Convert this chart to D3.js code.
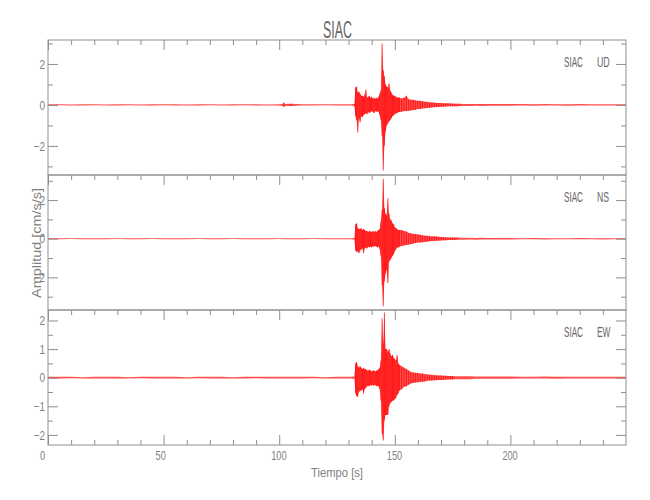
<!DOCTYPE html>
<html><head><meta charset="utf-8">
<script src="https://cdn.jsdelivr.net/npm/d3@7"></script>
<style>body{margin:0;background:#fff}</style>
</head><body>
<svg id="chart" width="650" height="500"></svg>
<script>
// ---------------- data ----------------
const station = "SIAC";
const components = ["UD", "NS", "EW"];
const xTicksMajor = [0, 50, 100, 150, 200];
const xTicksMinor = [10,20,30,40,60,70,80,90,110,120,130,140,160,170,180,190,210,220,230,240];

// sample times (s) of the min/max envelope bins
const times = [0,5,10,15,20,25,30,35,40,45,50,55,60,65,70,75,80,85,90,95,100,101.5,102,102.5,105,110,115,120,125,130,131,132,
132.5,133,133.5,134,134.5,135,135.5,136,136.5,137,137.5,138,138.5,139,139.5,140,140.5,141,141.5,142,142.5,143,143.5,144,144.5,145,145.5,146,146.5,147,147.5,148,148.5,149,149.5,150,150.5,151,151.5,152,
153,154,155,156,157,158,159,160,161,162,163,164,165,166,167,168,169,170,171,172,173,174,175,176,177,178,179,180,
182.5,185,187.5,190,192.5,195,197.5,200,
205,210,215,220,225,230,235,240,245,250];

// UD envelope (cm/s/s)
const udHi = [0.03,0.03,0.02,0.03,0.03,0.02,0.03,0.03,0.02,0.03,0.03,0.03,0.02,0.03,0.03,0.02,0.03,0.03,0.03,0.02,0.03,0.05,0.12,0.05,0.06,0.03,0.03,0.03,0.03,0.03,0.03,0.04,
0.05,0.85,0.9,0.6,0.65,0.55,0.45,0.45,0.4,0.5,0.75,0.35,0.4,0.45,0.35,0.4,0.3,0.35,0.3,0.35,0.3,0.4,0.55,0.7,3.0,1.7,1.4,1.0,0.9,0.85,1.05,0.7,0.6,0.5,0.45,0.45,0.4,0.35,0.38,0.35,
0.32,0.35,0.45,0.28,0.25,0.25,0.22,0.2,0.2,0.18,0.15,0.15,0.13,0.12,0.12,0.1,0.1,0.09,0.08,0.08,0.08,0.07,0.07,0.06,0.06,0.06,0.05,0.05,
0.05,0.05,0.04,0.05,0.04,0.04,0.04,0.04,
0.04,0.03,0.04,0.03,0.03,0.04,0.03,0.03,0.03,0.03];
const udLo = [-0.03,-0.02,-0.03,-0.03,-0.02,-0.03,-0.03,-0.02,-0.03,-0.03,-0.02,-0.03,-0.03,-0.03,-0.02,-0.03,-0.03,-0.02,-0.03,-0.03,-0.03,-0.05,-0.1,-0.05,-0.05,-0.03,-0.03,-0.02,-0.03,-0.03,-0.03,-0.04,
-0.06,-0.55,-0.75,-1.35,-0.65,-0.85,-0.55,-0.6,-0.5,-0.45,-0.4,-0.45,-0.35,-0.4,-0.35,-0.3,-0.35,-0.4,-0.3,-0.35,-0.3,-0.35,-0.5,-0.75,-1.5,-3.2,-2.0,-1.3,-1.0,-0.9,-0.8,-0.75,-0.65,-0.55,-0.5,-0.45,-0.4,-0.4,-0.35,-0.35,
-0.33,-0.3,-0.3,-0.28,-0.27,-0.25,-0.24,-0.2,-0.2,-0.17,-0.16,-0.15,-0.14,-0.12,-0.11,-0.1,-0.1,-0.09,-0.09,-0.08,-0.07,-0.07,-0.07,-0.06,-0.06,-0.05,-0.05,-0.05,
-0.05,-0.04,-0.05,-0.04,-0.04,-0.04,-0.04,-0.04,
-0.03,-0.04,-0.03,-0.03,-0.04,-0.03,-0.03,-0.03,-0.03,-0.03];

// NS envelope
const nsHi = [0.03,0.02,0.03,0.03,0.02,0.03,0.03,0.03,0.02,0.03,0.03,0.02,0.03,0.03,0.03,0.02,0.03,0.03,0.02,0.03,0.03,0.03,0.03,0.03,0.03,0.02,0.03,0.03,0.03,0.03,0.03,0.04,
0.04,0.75,0.8,0.55,0.5,0.5,0.55,0.45,0.5,0.45,0.4,0.4,0.35,0.4,0.38,0.35,0.4,0.35,0.4,0.35,0.4,0.45,0.5,0.9,1.5,3.1,1.6,1.3,1.2,2.1,1.3,1.0,0.95,0.8,0.75,0.6,0.55,0.5,0.45,0.45,
0.45,0.4,0.38,0.3,0.28,0.25,0.25,0.22,0.2,0.18,0.16,0.15,0.14,0.12,0.13,0.11,0.1,0.09,0.08,0.08,0.07,0.07,0.06,0.06,0.06,0.05,0.05,0.05,
0.05,0.04,0.05,0.04,0.04,0.04,0.04,0.04,
0.03,0.04,0.03,0.03,0.03,0.04,0.03,0.03,0.03,0.03];
const nsLo = [-0.03,-0.03,-0.02,-0.03,-0.03,-0.03,-0.02,-0.03,-0.03,-0.02,-0.03,-0.03,-0.03,-0.02,-0.03,-0.03,-0.02,-0.03,-0.03,-0.03,-0.02,-0.03,-0.03,-0.03,-0.03,-0.03,-0.02,-0.03,-0.03,-0.03,-0.03,-0.04,
-0.04,-0.6,-0.7,-0.65,-0.75,-0.6,-0.55,-0.5,-0.75,-0.5,-0.45,-0.5,-0.4,-0.45,-0.4,-0.45,-0.4,-0.4,-0.38,-0.4,-0.45,-0.4,-0.55,-0.9,-2.4,-3.5,-2.2,-1.8,-1.6,-2.3,-1.2,-1.1,-1.0,-0.9,-0.8,-0.65,-0.55,-0.45,-0.45,-0.4,
-0.38,-0.35,-0.32,-0.3,-0.28,-0.25,-0.22,-0.2,-0.2,-0.18,-0.15,-0.15,-0.13,-0.12,-0.12,-0.1,-0.1,-0.09,-0.08,-0.08,-0.07,-0.07,-0.06,-0.06,-0.05,-0.05,-0.05,-0.05,
-0.04,-0.05,-0.04,-0.04,-0.04,-0.04,-0.04,-0.04,
-0.03,-0.03,-0.04,-0.03,-0.03,-0.03,-0.03,-0.04,-0.03,-0.03];

// EW envelope
const ewHi = [0.03,0.03,0.03,0.02,0.03,0.03,0.03,0.02,0.03,0.03,0.03,0.03,0.02,0.03,0.03,0.03,0.02,0.03,0.03,0.03,0.03,0.03,0.03,0.03,0.03,0.03,0.03,0.02,0.03,0.03,0.03,0.04,
0.04,0.5,0.55,0.4,0.35,0.4,0.35,0.3,0.35,0.3,0.3,0.25,0.25,0.28,0.25,0.22,0.25,0.25,0.22,0.25,0.25,0.3,0.35,0.6,2.07,1.2,2.28,1.0,1.0,0.9,1.0,0.85,0.75,0.8,0.7,0.65,0.6,0.8,0.5,0.45,
0.4,0.35,0.3,0.25,0.2,0.18,0.17,0.16,0.15,0.15,0.12,0.12,0.1,0.1,0.09,0.09,0.08,0.08,0.07,0.07,0.06,0.06,0.06,0.05,0.05,0.05,0.05,0.05,
0.05,0.04,0.04,0.04,0.04,0.04,0.04,0.04,
0.03,0.03,0.04,0.03,0.03,0.03,0.03,0.03,0.03,0.03];
const ewLo = [-0.03,-0.03,-0.02,-0.03,-0.03,-0.03,-0.03,-0.03,-0.02,-0.03,-0.03,-0.03,-0.03,-0.02,-0.03,-0.03,-0.03,-0.03,-0.02,-0.03,-0.03,-0.03,-0.03,-0.03,-0.03,-0.03,-0.02,-0.03,-0.03,-0.03,-0.03,-0.04,
-0.04,-0.55,-0.65,-0.66,-0.5,-0.45,-0.45,-0.4,-0.55,-0.4,-0.35,-0.3,-0.28,-0.3,-0.25,-0.28,-0.25,-0.28,-0.25,-0.3,-0.28,-0.3,-0.4,-0.8,-1.95,-2.2,-1.5,-1.3,-1.3,-1.3,-1.0,-0.9,-0.85,-0.8,-0.8,-0.75,-0.7,-0.6,-0.55,-0.45,
-0.4,-0.32,-0.3,-0.25,-0.2,-0.18,-0.17,-0.16,-0.15,-0.14,-0.13,-0.11,-0.1,-0.1,-0.09,-0.09,-0.08,-0.08,-0.07,-0.07,-0.06,-0.06,-0.06,-0.05,-0.05,-0.05,-0.05,-0.05,
-0.05,-0.04,-0.04,-0.04,-0.04,-0.04,-0.04,-0.04,
-0.03,-0.03,-0.03,-0.04,-0.03,-0.03,-0.03,-0.03,-0.03,-0.03];

// y axis ranges and ticks of each panel
const yDomains = [[-3.42, 3.17], [-3.69, 3.30], [-2.353, 2.367]];
const yMajor = [[-2, 0, 2], [-2, 0, 2], [-2, -1, 0, 1, 2]];
const yMinor = [[-3, -1, 1, 3], [-3, -1, 1, 3], [-1.5, -0.5, 0.5, 1.5]];

// ---------------- drawing ----------------
const svg = d3.select("#chart");
const left = 48, right = 626, top0 = 40, panelH = 135;
const axisColor = "#8f8f8f", labelColor = "#808080", textColor = "#666666";
const font = "'Liberation Sans', Arial, sans-serif";

const x = d3.scaleLinear().domain([0, 250]).range([left, right]);
const series = [[udHi, udLo], [nsHi, nsLo], [ewHi, ewLo]];

function narrow(sel, perChar) {
  sel.each(function () {
    const t = d3.select(this);
    const s = t.text();
    t.attr("textLength", s.length * perChar).attr("lengthAdjust", "spacingAndGlyphs");
  });
}

const defs = svg.append("defs");

components.forEach((comp, i) => {
  const top = top0 + i * panelH, bottom = top + panelH;
  const y = d3.scaleLinear().domain(yDomains[i]).range([bottom, top]);
  const g = svg.append("g");

  defs.append("clipPath").attr("id", "clip" + i)
    .append("rect").attr("x", left).attr("y", top).attr("width", right - left).attr("height", panelH);

  // trace: min/max envelope band plus one vertical stroke per bin
  const [hi, lo] = series[i];
  const bins = times.map((t, k) => ({ t, hi: hi[k], lo: lo[k] }));
  const tr = g.append("g").attr("clip-path", `url(#clip${i})`);
  tr.append("path")
    .attr("d", d3.area().x(d => x(d.t)).y0(d => y(d.lo)).y1(d => y(d.hi))(bins))
    .attr("fill", "#ff2020").attr("fill-opacity", 0.8).attr("stroke", "none");
  tr.append("path")
    .attr("d", bins.filter(d => d.hi - d.lo > 0.1)
      .map(d => `M${x(d.t)},${y(d.hi)}V${y(d.lo)}`).join(""))
    .attr("stroke", "#ff0000").attr("stroke-width", 0.7).attr("fill", "none");

  // frame
  g.append("rect").attr("x", left).attr("y", top).attr("width", right - left).attr("height", panelH)
    .attr("fill", "none").attr("stroke", axisColor).attr("stroke-width", 1);

  // left y axis
  const yl = g.append("g").attr("transform", `translate(${left},0)`)
    .call(d3.axisLeft(y).tickValues(yMajor[i]).tickSizeInner(-10).tickSizeOuter(0).tickPadding(3)
      .tickFormat(d => d3.format("d")(d)));
  yl.append("g").call(d3.axisLeft(y).tickValues(yMinor[i]).tickSizeInner(-5).tickSizeOuter(0).tickFormat(""));
  yl.selectAll(".domain").remove();
  yl.selectAll("line").attr("stroke", axisColor);
  yl.selectAll("text").attr("fill", labelColor).attr("font-family", font).attr("font-size", 13)
    .call(narrow, 5.6);

  // right y axis
  const yr = g.append("g").attr("transform", `translate(${right},0)`)
    .call(d3.axisRight(y).tickValues(yMajor[i]).tickSizeInner(-10).tickSizeOuter(0).tickFormat(""));
  yr.append("g").call(d3.axisRight(y).tickValues(yMinor[i]).tickSizeInner(-5).tickSizeOuter(0).tickFormat(""));
  yr.selectAll(".domain").remove();
  yr.selectAll("line").attr("stroke", axisColor);

  // top x axis (ticks pointing down)
  const xt = g.append("g").attr("transform", `translate(0,${top})`)
    .call(d3.axisTop(x).tickValues(xTicksMajor).tickSizeInner(-10).tickSizeOuter(0).tickFormat(""));
  xt.append("g").call(d3.axisTop(x).tickValues(xTicksMinor).tickSizeInner(-5).tickSizeOuter(0).tickFormat(""));
  xt.selectAll(".domain").remove();
  xt.selectAll("line").attr("stroke", axisColor);

  // panel label
  g.append("text").attr("x", 564).attr("y", top + 26.7).text(station)
    .attr("fill", textColor).attr("font-family", font).attr("font-size", 14.5)
    .attr("textLength", 19).attr("lengthAdjust", "spacingAndGlyphs");
  g.append("text").attr("x", 597).attr("y", top + 26.7).text(comp)
    .attr("fill", textColor).attr("font-family", font).attr("font-size", 14.5)
    .attr("textLength", comp === "UD" ? 12.7 : (comp === "NS" ? 12 : 13.3)).attr("lengthAdjust", "spacingAndGlyphs");

  // bottom axis on last panel
  if (i === components.length - 1) {
    const xb = g.append("g").attr("transform", `translate(0,${bottom})`)
      .call(d3.axisBottom(x).tickValues(xTicksMajor).tickSizeInner(-10).tickSizeOuter(0).tickPadding(5));
    xb.append("g").call(d3.axisBottom(x).tickValues(xTicksMinor).tickSizeInner(-5).tickSizeOuter(0).tickFormat(""));
    xb.selectAll(".domain").remove();
    xb.selectAll("line").attr("stroke", axisColor);
    xb.selectAll("text").attr("fill", labelColor).attr("font-family", font).attr("font-size", 13.5)
      .attr("text-anchor", "start").attr("x", -8.5)
      .call(narrow, 5.1);
  }
});

// title
svg.append("text").attr("x", 323).attr("y", 37.5).text(station)
  .attr("fill", textColor).attr("font-family", font).attr("font-size", 24)
  .attr("textLength", 29).attr("lengthAdjust", "spacingAndGlyphs");

// axis titles
svg.append("text").attr("x", 311).attr("y", 476.5).text("Tiempo  [s]")
  .attr("fill", labelColor).attr("font-family", font).attr("font-size", 13.5)
  .attr("textLength", 52).attr("lengthAdjust", "spacingAndGlyphs");
svg.append("text").attr("transform", "translate(41,243) rotate(-90)")
  .attr("text-anchor", "middle").text("Amplitud  [cm/s/s]")
  .attr("fill", labelColor).attr("font-family", font).attr("font-size", 13.5)
  .attr("textLength", 110).attr("lengthAdjust", "spacingAndGlyphs");
</script>
</body></html>
